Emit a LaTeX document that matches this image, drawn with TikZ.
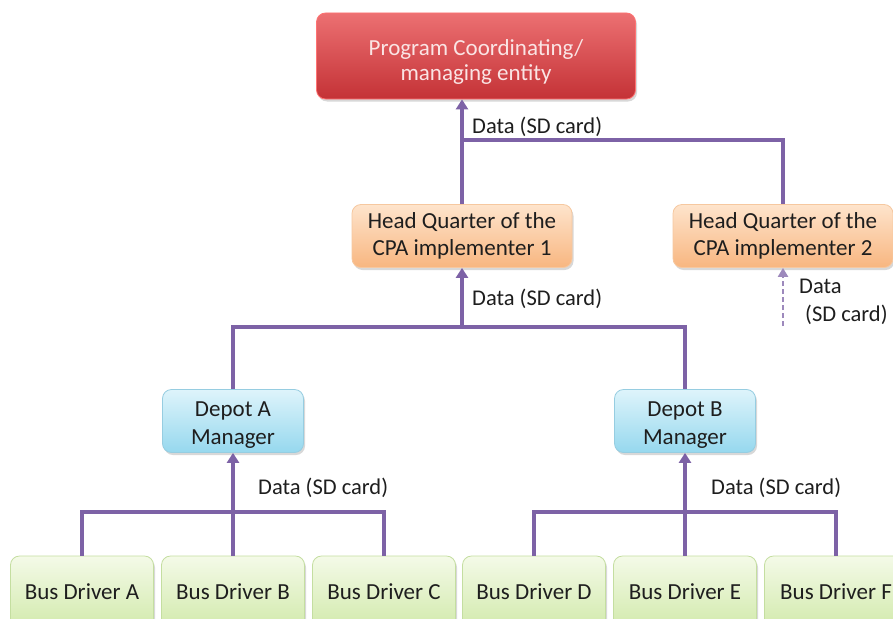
\documentclass[tikz,border=0pt]{standalone}
\usepackage{fontspec}
\setmainfont{Carlito}
\usetikzlibrary{arrows.meta,shadows}
\definecolor{linkc}{HTML}{7D62A6}
\definecolor{txt}{HTML}{1E1E1E}
\tikzset{
  box/.style={rounded corners=9pt, draw, line width=0.8pt, align=center, text=txt,
    font=\fontsize{23}{27.5}\selectfont,
    drop shadow={shadow xshift=1.5pt, shadow yshift=-2.5pt, opacity=0.25, fill=black!60}},
  redbox/.style={box, draw=red!55!white, top color={rgb,255:red,236;green,112;blue,114}, bottom color={rgb,255:red,196;green,50;blue,54}, text={rgb,255:red,250;green,228;blue,228}, minimum width=319pt, minimum height=86pt, font=\fontsize{23}{25}\selectfont},
  orangebox/.style={box, draw={rgb,255:red,246;green,200;blue,160}, top color={rgb,255:red,254;green,228;blue,204}, bottom color={rgb,255:red,248;green,182;blue,128}, minimum width=220pt, minimum height=63pt},
  bluebox/.style={box, draw={rgb,255:red,150;green,205;blue,225}, top color={rgb,255:red,222;green,244;blue,251}, bottom color={rgb,255:red,150;green,216;blue,238}, minimum width=141pt, minimum height=63pt},
  greenbox/.style={box, draw={rgb,255:red,196;green,222;blue,160}, top color={rgb,255:red,244;green,250;blue,232}, bottom color={rgb,255:red,210;green,234;blue,172}, minimum width=143pt, minimum height=72pt},
  link/.style={draw=linkc, line width=3.2pt},
  arr/.style={link, -{Triangle[width=12pt,length=10pt]}},
  dasharr/.style={draw=linkc!75!white, line width=2.4pt, dash pattern=on 5pt off 3pt, -{Triangle[width=10pt,length=9pt]}},
  lbl/.style={anchor=west, text=txt, font=\fontsize{22.5}{28}\selectfont, inner sep=0pt, align=left}
}
\begin{document}
\begin{tikzpicture}[x=1pt,y=-1pt]
\useasboundingbox[fill=white] (0,0) rectangle (893,618);
\clip (0,0) rectangle (893,618);
% nodes
\node[redbox] (pce) at (476,56) {\rule{0pt}{27pt}Program Coordinating/\\managing entity};
\node[orangebox] (hq1) at (462,236) {Head Quarter of the\\CPA implementer 1};
\node[orangebox] (hq2) at (783,236) {Head Quarter of the\\CPA implementer 2};
\node[bluebox] (dA) at (233,421) {\rule{0pt}{23pt}Depot A\\Manager};
\node[bluebox] (dB) at (685,421) {\rule{0pt}{23pt}Depot B\\Manager};
\node[greenbox] (bA) at (82,592) {Bus Driver A};
\node[greenbox] (bB) at (233,592) {Bus Driver B};
\node[greenbox] (bC) at (384,592) {Bus Driver C};
\node[greenbox] (bD) at (534,592) {Bus Driver D};
\node[greenbox] (bE) at (685,592) {Bus Driver E};
\node[greenbox] (bF) at (836,592) {Bus Driver F};
% junctions
\coordinate (j1) at (462,140);
\coordinate (j2) at (462,327);
\coordinate (j3) at (233,512);
\coordinate (j4) at (685,512);
\coordinate (d2) at (783,326);
% connectors
\draw[link] (hq1.north) -- (j1) -| (hq2.north);
\draw[arr] (j1) -- (j1 |- pce.south);
\draw[link] (dA.north) |- (j2) -| (dB.north);
\draw[arr] (j2) -- (hq1.south);
\draw[link] (bA.north) |- (j3) -| (bC.north);
\draw[link] (bB.north) -- (j3);
\draw[arr] (j3) -- (dA.south);
\draw[link] (bD.north) |- (j4) -| (bF.north);
\draw[link] (bE.north) -- (j4);
\draw[arr] (j4) -- (dB.south);
\draw[dasharr] (d2) -- (hq2.south);
% labels
\node[lbl] (l1) at (472,127) {Data (SD card)};
\node[lbl] (l2) at (472,299) {Data (SD card)};
\node[lbl] (l3) at (258,488) {Data (SD card)};
\node[lbl] (l4) at (711,488) {Data (SD card)};
\node[lbl] (l5) at (799,302) {Data\\\hspace{6pt}(SD card)};
\end{tikzpicture}
\end{document}
